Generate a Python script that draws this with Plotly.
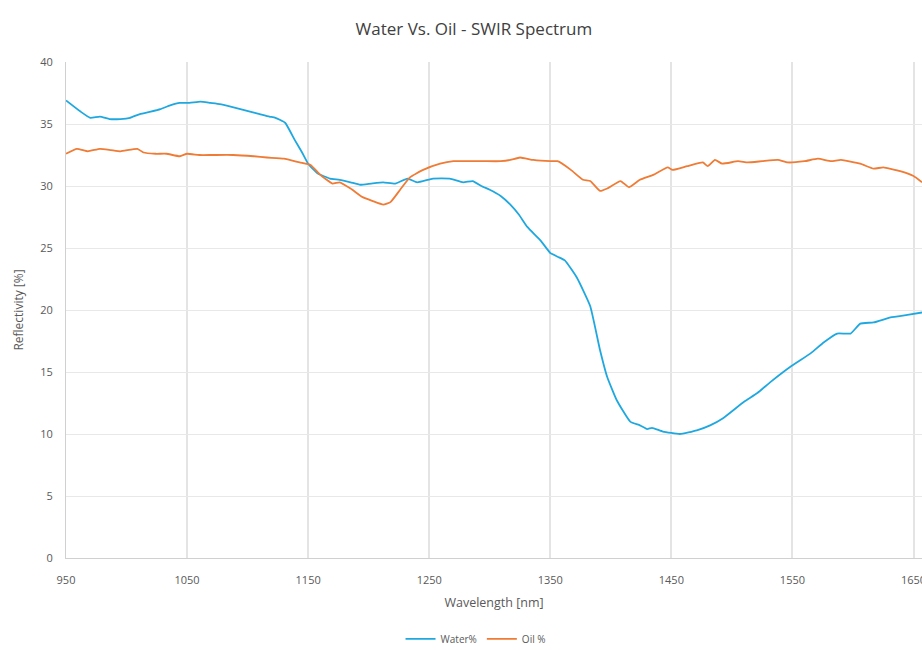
import plotly.graph_objects as go

water_nm = [950, 962, 970, 978, 986, 995, 1003, 1011, 1020, 1028, 1036, 1044, 1052, 1061, 1069, 1077, 1086, 1094, 1102, 1110, 1118, 1123, 1131, 1139, 1145, 1150,
            1158, 1168, 1176, 1185, 1193, 1202, 1212, 1222, 1232, 1240, 1253, 1267, 1278, 1286, 1293, 1300, 1309, 1317, 1324, 1331, 1342, 1350, 1356, 1362,
            1372, 1383, 1391, 1397, 1405, 1416, 1424, 1430, 1434, 1443, 1457, 1471, 1482, 1493, 1510, 1521, 1532, 1548, 1565, 1576, 1587, 1598, 1606, 1617, 1631, 1645, 1657]
water_pct = [36.9, 36.0, 35.5, 35.6, 35.4, 35.4, 35.5, 35.8, 36.0, 36.2, 36.5, 36.7, 36.7, 36.8, 36.7, 36.6, 36.4, 36.2, 36.0, 35.8, 35.6, 35.5, 35.1, 33.7, 32.7, 31.8,
             31.0, 30.6, 30.5, 30.3, 30.1, 30.2, 30.3, 30.2, 30.6, 30.3, 30.6, 30.6, 30.3, 30.4, 30.0, 29.7, 29.2, 28.5, 27.7, 26.7, 25.6, 24.6, 24.3, 24.0,
             22.6, 20.3, 16.8, 14.6, 12.7, 11.0, 10.7, 10.4, 10.5, 10.2, 10.0, 10.3, 10.7, 11.3, 12.6, 13.3, 14.2, 15.4, 16.5, 17.4, 18.1, 18.1, 18.9, 19.0, 19.4, 19.6, 19.8]

oil_nm = [950, 959, 968, 978, 987, 995, 1009, 1014, 1024, 1033, 1044, 1050, 1060, 1071, 1088, 1105, 1116, 1130, 1143, 1152, 1160, 1170, 1176, 1185, 1195, 1203, 1212,
          1218, 1226, 1234, 1245, 1259, 1270, 1281, 1295, 1309, 1317, 1325, 1336, 1350, 1356, 1367, 1377, 1383, 1391, 1397, 1408, 1415, 1424, 1435, 1447, 1451,
          1463, 1476, 1480, 1486, 1492, 1505, 1513, 1525, 1538, 1546, 1560, 1571, 1582, 1590, 1606, 1617, 1625, 1639, 1650, 1657]
oil_pct = [32.6, 33.0, 32.8, 33.0, 32.9, 32.8, 33.0, 32.7, 32.6, 32.6, 32.4, 32.6, 32.5, 32.5, 32.5, 32.4, 32.3, 32.2, 31.9, 31.7, 30.9, 30.2, 30.3, 29.8, 29.1, 28.8, 28.5,
           28.7, 29.7, 30.7, 31.3, 31.8, 32.0, 32.0, 32.0, 32.0, 32.1, 32.3, 32.1, 32.0, 32.0, 31.3, 30.5, 30.4, 29.6, 29.8, 30.4, 29.9, 30.5, 30.9, 31.5, 31.3,
           31.6, 31.9, 31.6, 32.1, 31.8, 32.0, 31.9, 32.0, 32.1, 31.9, 32.0, 32.2, 32.0, 32.1, 31.8, 31.4, 31.5, 31.2, 30.8, 30.3]

x_ticks = [950, 1050, 1150, 1250, 1350, 1450, 1550, 1650]
y_ticks = [0, 5, 10, 15, 20, 25, 30, 35, 40]

fig = go.Figure()
fig.add_trace(go.Scatter(x=water_nm, y=water_pct, mode="lines", name="Water%",
                         line=dict(color="#1FA8E0", width=1.8, shape="spline", smoothing=0.4)))
fig.add_trace(go.Scatter(x=oil_nm, y=oil_pct, mode="lines", name="Oil %",
                         line=dict(color="#EF7B35", width=1.8, shape="spline", smoothing=0.4)))

font_family = "Open Sans, Liberation Sans, sans-serif"
fig.update_layout(
    width=922, height=650,
    margin=dict(l=66, r=0, t=62, b=92, autoexpand=False),
    paper_bgcolor="white", plot_bgcolor="white",
    font=dict(family=font_family, color="#595959", size=11),
    title=dict(text="Water Vs. Oil - SWIR Spectrum", x=0.514, xanchor="center", y=0.955, yanchor="middle",
               font=dict(size=17, color="#404040", family=font_family)),
    xaxis=dict(range=[950, 1657], tickvals=x_ticks, ticktext=[str(v) for v in x_ticks],
               showgrid=True, gridcolor="#E4E4E4", gridwidth=1.5, zeroline=False,
               showline=True, linecolor="#D0D0D0", ticks="", ticklabelstandoff=12,
               ticklabeloverflow="allow", automargin=False,
               title=dict(text="Wavelength [nm]", font=dict(size=12.5, color="#595959"), standoff=12),
               tickfont=dict(size=11, color="#595959")),
    yaxis=dict(range=[0, 40], tickvals=y_ticks, showgrid=True, gridcolor="#E8E8E8", gridwidth=1,
               zeroline=False, showline=True, linecolor="#D0D0D0", ticks="", ticklabelstandoff=10,
               automargin=False,
               title=dict(text="Reflectivity [%]", font=dict(size=12, color="#595959"), standoff=14),
               tickfont=dict(size=11, color="#595959")),
    legend=dict(orientation="h", x=0.479, xanchor="center", y=-0.163, yanchor="middle",
                font=dict(size=10, color="#595959"), itemwidth=30),
    showlegend=True,
)

fig.write_html("out.html")
